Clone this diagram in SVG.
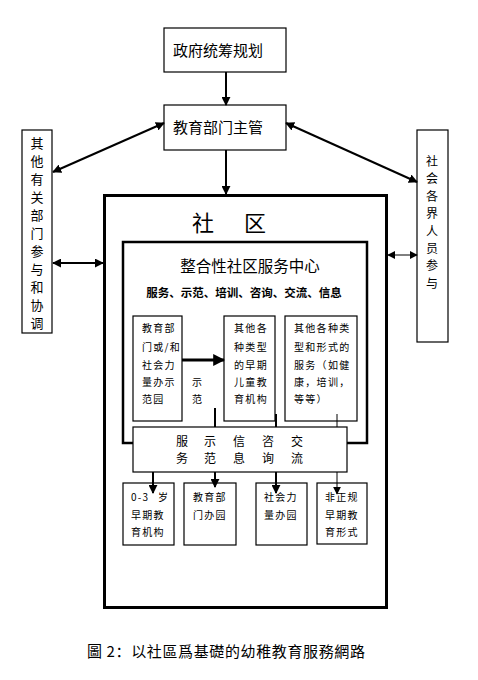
<svg xmlns="http://www.w3.org/2000/svg" width="478" height="680" viewBox="0 0 478 680">
<style>
text{font-family:"Noto Sans CJK SC","Noto Sans CJK TC",sans-serif;fill:#000}
.box{fill:#fff;stroke:#000;stroke-width:1.2}
.ln{stroke:#000;stroke-width:2;fill:none}
.thin{stroke:#000;stroke-width:1;fill:none}
.t10{font-size:10px;letter-spacing:1.3px}
.t13{font-size:13px}
.t12{font-size:12px}
.t15{font-size:15px}
</style>
<defs>
<marker id="ah" viewBox="0 0 10 10" refX="9" refY="5" markerWidth="4" markerHeight="4" orient="auto-start-reverse"><path d="M0,0L10,5L0,10z" fill="#000"/></marker>
<marker id="ahs" viewBox="0 0 10 10" refX="9" refY="5" markerWidth="4.5" markerHeight="4.5" orient="auto-start-reverse"><path d="M0,0L10,5L0,10z" fill="#000"/></marker>
<marker id="aht" viewBox="0 0 10 10" refX="9" refY="5" markerWidth="8" markerHeight="8" orient="auto-start-reverse"><path d="M0,0L10,5L0,10z" fill="#000"/></marker>
</defs>
<rect width="478" height="680" fill="#fff"/>

<g id="community">
<rect x="104.5" y="195.5" width="282" height="412" fill="#fff" stroke="#000" stroke-width="3"/>
<text x="203" y="231" font-size="22" text-anchor="middle">社</text>
<text x="255" y="231" font-size="22" text-anchor="middle">区</text>
</g>

<g id="center">
<rect x="123" y="242" width="244" height="201" fill="#fff" stroke="#000" stroke-width="2.5"/>
<text x="250" y="272" font-size="15.5" text-anchor="middle">整合性社区服务中心</text>
<text x="244" y="297" font-size="11.5" font-weight="bold" text-anchor="middle">服务、示范、培训、咨询、交流、信息</text>
</g>

<g id="gov">
<rect class="box" x="164" y="28" width="122" height="44"/>
<text x="218" y="56" class="t15" text-anchor="middle">政府统筹规划</text>
</g>
<g id="edu">
<rect class="box" x="164" y="105" width="122" height="45"/>
<text x="218" y="133" class="t15" text-anchor="middle">教育部门主管</text>
</g>
<g id="other-dept">
<rect class="box" x="22" y="130" width="30" height="203"/>
<text class="t13" text-anchor="middle">
<tspan x="37" y="148">其</tspan><tspan x="37" y="166">他</tspan><tspan x="37" y="184">有</tspan><tspan x="37" y="202">关</tspan><tspan x="37" y="220">部</tspan><tspan x="37" y="238">门</tspan><tspan x="37" y="256">参</tspan><tspan x="37" y="274">与</tspan><tspan x="37" y="292">和</tspan><tspan x="37" y="310">协</tspan><tspan x="37" y="328">调</tspan>
</text>
</g>
<g id="society">
<rect class="box" x="417" y="130" width="31" height="212"/>
<text class="t12" text-anchor="middle">
<tspan x="432" y="166">社</tspan><tspan x="432" y="183">会</tspan><tspan x="432" y="201">各</tspan><tspan x="432" y="218">界</tspan><tspan x="432" y="236">人</tspan><tspan x="432" y="253">员</tspan><tspan x="432" y="270">参</tspan><tspan x="432" y="288">与</tspan>
</text>
</g>

<g id="demo">
<rect class="box" x="133" y="316" width="49" height="105"/>
<text class="t10"><tspan x="142" y="332">教育部</tspan><tspan x="142" y="351">门或/和</tspan><tspan x="142" y="369">社会力</tspan><tspan x="142" y="386">量办示</tspan><tspan x="142" y="403">范园</tspan></text>
</g>
<g id="demo-label">
<text class="t10"><tspan x="192" y="386">示</tspan><tspan x="192" y="403">范</tspan></text>
</g>
<g id="other-inst">
<rect class="box" x="224" y="316" width="51" height="105"/>
<text class="t10" text-anchor="middle"><tspan x="251" y="332">其他各</tspan><tspan x="251" y="351">种类型</tspan><tspan x="251" y="369">的早期</tspan><tspan x="251" y="386">儿童教</tspan><tspan x="251" y="403">育机构</tspan></text>
</g>
<g id="other-serv">
<rect class="box" x="285" y="316" width="72" height="105"/>
<text class="t10"><tspan x="294" y="332">其他各种类</tspan><tspan x="294" y="351">型和形式的</tspan><tspan x="294" y="369">服务（如健</tspan><tspan x="294" y="386">康，培训，</tspan><tspan x="294" y="403">等等）</tspan></text>
</g>

<g id="connectors">
<line class="ln" x1="226" y1="72" x2="226" y2="105" marker-end="url(#ahs)"/>
<line class="ln" x1="226" y1="150" x2="226" y2="194" marker-end="url(#ahs)"/>
<line class="ln" x1="164" y1="123" x2="53" y2="172" marker-start="url(#ahs)" marker-end="url(#ahs)"/>
<line class="ln" x1="286" y1="123" x2="417" y2="182" marker-start="url(#ahs)" marker-end="url(#ahs)"/>
<line class="ln" x1="53" y1="263" x2="103" y2="263" marker-start="url(#ahs)" marker-end="url(#ahs)"/>
<line class="thin" x1="388" y1="255" x2="417" y2="255" marker-start="url(#aht)" marker-end="url(#aht)"/>
<line x1="182" y1="360" x2="224" y2="360" stroke="#000" stroke-width="3" marker-end="url(#ah)"/>
<line class="ln" x1="215" y1="408" x2="215" y2="427"/>
<line class="ln" x1="276" y1="414" x2="276" y2="427"/>
<line class="thin" x1="337" y1="414" x2="337" y2="427"/>
<line class="ln" x1="153" y1="472" x2="153" y2="493" marker-end="url(#ahs)"/>
<line class="ln" x1="215" y1="472" x2="215" y2="487" marker-end="url(#ahs)"/>
<line class="ln" x1="276" y1="472" x2="276" y2="493" marker-end="url(#ahs)"/>
<line class="thin" x1="337" y1="472" x2="337" y2="494" marker-end="url(#aht)"/>
</g>

<g id="services">
<rect class="box" x="133" y="427" width="214" height="45"/>
<text class="t12" text-anchor="middle"><tspan x="182" y="446">服</tspan><tspan x="210" y="446">示</tspan><tspan x="239" y="446">信</tspan><tspan x="268" y="446">咨</tspan><tspan x="297" y="446">交</tspan></text>
<text class="t12" text-anchor="middle"><tspan x="182" y="463">务</tspan><tspan x="210" y="463">范</tspan><tspan x="239" y="463">息</tspan><tspan x="268" y="463">询</tspan><tspan x="297" y="463">流</tspan></text>
</g>

<g id="b1">
<rect class="box" x="123" y="483" width="51" height="62" fill-opacity="0"/>
<text class="t10"><tspan x="131" y="501">0-3</tspan><tspan x="158" y="501">岁</tspan><tspan x="131" y="519">早期教</tspan><tspan x="131" y="536">育机构</tspan></text>
</g>
<g id="b2">
<rect class="box" x="184" y="483" width="52" height="62" fill-opacity="0"/>
<text class="t10"><tspan x="193" y="501">教育部</tspan><tspan x="193" y="519">门办园</tspan></text>
</g>
<g id="b3">
<rect class="box" x="256" y="483" width="51" height="62" fill-opacity="0"/>
<text class="t10"><tspan x="264" y="501">社会力</tspan><tspan x="264" y="519">量办园</tspan></text>
</g>
<g id="b4">
<rect class="box" x="317" y="483" width="50" height="61" fill-opacity="0"/>
<text class="t10"><tspan x="325" y="501">非正规</tspan><tspan x="325" y="519">早期教</tspan><tspan x="325" y="536">育形式</tspan></text>
</g>

<g id="caption">
<text x="87" y="657" class="t15" textLength="278" lengthAdjust="spacing">圖 2：以社區爲基礎的幼稚教育服務網路</text>
</g>
</svg>
